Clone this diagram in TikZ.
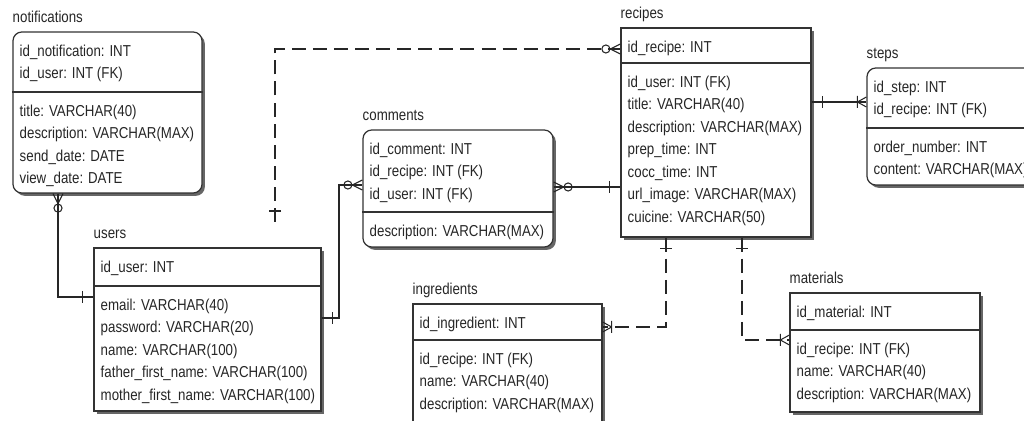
\documentclass[tikz,border=0pt]{standalone}
\usepackage{fontspec}
\setmainfont[FakeStretch=0.84]{Liberation Sans}
\usetikzlibrary{fit}
\usetikzlibrary{shadows}

\tikzset{
  tbl/.style={draw=black!80, line width=0.7pt, fill=white, inner sep=0pt,
    drop shadow={shadow xshift=1.6pt, shadow yshift=-1.6pt, fill=black!60, opacity=1}},
  rtbl/.style={tbl, rounded corners=5pt},
  div/.style={draw=black!80, line width=0.7pt},
  ttl/.style={anchor=base west, inner sep=0pt, text=black!85},
  fld/.style={anchor=north west, inner sep=0pt, align=left, text=black!85},
  rel/.style={line width=0.6pt, black!85},
  relopt/.style={rel, dash pattern=on 8pt off 4pt},
  barend/.pic={\draw[rel] (-11,-6) -- (-11,6);},
  zeromany/.pic={\draw[rel] (-10,0) -- (0,-5) (-10,0) -- (0,5);
                 \draw[rel] (-14.5,0) circle[radius=2.3pt];},
  onemany/.pic={\draw[rel] (-9,0) -- (0,-5) (-9,0) -- (0,5) (-9,-6) -- (-9,6);},
}

\begin{document}
\begin{tikzpicture}[x=0.02cm, y=-0.02cm, font=\fontsize{9}{12.8}\selectfont]
\useasboundingbox (0,0) rectangle (1024,421);
\clip (0,0) rectangle (1024,421);

% tables
\node[rtbl, fit={(13,32) (202,193)}] (notif) {};
\node[ttl] (notif-t) at ([yshift=5pt]notif.north west) {notifications};
\draw[div] (notif.west |- 0,92) -- (notif.east |- 0,92);
\node[fld] (notif-k) at ([shift={(7,13)}]notif.north west) {id\_notification: INT\\id\_user: INT (FK)};
\node[fld] (notif-a) at ([shift={(7,73)}]notif.north west) {title: VARCHAR(40)\\description: VARCHAR(MAX)\\send\_date: DATE\\view\_date: DATE};

\node[tbl, fit={(94,248) (321,411)}] (users) {};
\node[ttl] (users-t) at ([yshift=5pt]users.north west) {users};
\draw[div] (users.west |- 0,286) -- (users.east |- 0,286);
\node[fld] (users-k) at ([shift={(7,13)}]users.north west) {id\_user: INT};
\node[fld] (users-a) at ([shift={(7,51)}]users.north west) {email: VARCHAR(40)\\password: VARCHAR(20)\\name: VARCHAR(100)\\father\_first\_name: VARCHAR(100)\\mother\_first\_name: VARCHAR(100)};

\node[rtbl, fit={(363,130) (553,247)}] (comments) {};
\node[ttl] (comments-t) at ([yshift=5pt]comments.north west) {comments};
\draw[div] (comments.west |- 0,212) -- (comments.east |- 0,212);
\node[fld] (comments-k) at ([shift={(7,13)}]comments.north west) {id\_comment: INT\\id\_recipe: INT (FK)\\id\_user: INT (FK)};
\node[fld] (comments-a) at ([shift={(7,95)}]comments.north west) {description: VARCHAR(MAX)};

\node[tbl, fit={(621,28) (811,237)}] (recipes) {};
\node[ttl] (recipes-t) at ([yshift=5pt]recipes.north west) {recipes};
\draw[div] (recipes.west |- 0,63) -- (recipes.east |- 0,63);
\node[fld] (recipes-k) at ([shift={(7,13)}]recipes.north west) {id\_recipe: INT};
\node[fld] (recipes-a) at ([shift={(7,48)}]recipes.north west) {id\_user: INT (FK)\\title: VARCHAR(40)\\description: VARCHAR(MAX)\\prep\_time: INT\\cocc\_time: INT\\url\_image: VARCHAR(MAX)\\cuicine: VARCHAR(50)};

\node[rtbl, fit={(867,68) (1040,185)}] (steps) {};
\node[ttl] (steps-t) at ([yshift=5pt]steps.north west) {steps};
\draw[div] (steps.west |- 0,128) -- (steps.east |- 0,128);
\node[fld] (steps-k) at ([shift={(7,13)}]steps.north west) {id\_step: INT\\id\_recipe: INT (FK)};
\node[fld] (steps-a) at ([shift={(7,73)}]steps.north west) {order\_number: INT\\content: VARCHAR(MAX)};

\node[tbl, fit={(413,304) (602,440)}] (ingr) {};
\node[ttl] (ingr-t) at ([yshift=5pt]ingr.north west) {ingredients};
\draw[div] (ingr.west |- 0,340) -- (ingr.east |- 0,340);
\node[fld] (ingr-k) at ([shift={(7,13)}]ingr.north west) {id\_ingredient: INT};
\node[fld] (ingr-a) at ([shift={(7,49)}]ingr.north west) {id\_recipe: INT (FK)\\name: VARCHAR(40)\\description: VARCHAR(MAX)};

\node[tbl, fit={(790,293) (980,412)}] (mat) {};
\node[ttl] (mat-t) at ([yshift=5pt]mat.north west) {materials};
\draw[div] (mat.west |- 0,330) -- (mat.east |- 0,330);
\node[fld] (mat-k) at ([shift={(7,13)}]mat.north west) {id\_material: INT};
\node[fld] (mat-a) at ([shift={(7,50)}]mat.north west) {id\_recipe: INT (FK)\\name: VARCHAR(40)\\description: VARCHAR(MAX)};

% relations
\draw[rel] (notif.south -| 58,0) |- (users.west |- 0,297);
\pic[rotate=90] at (notif.south -| 58,0) {zeromany};
\pic at (users.west |- 0,297) {barend};

\coordinate (uend) at (275,222);
\draw[relopt] (uend) |- (recipes.west |- 0,49);
\pic[rotate=-90] at (uend) {barend};
\pic at (recipes.west |- 0,49) {zeromany};

\draw[rel] (users.east |- 0,318) -- (339,318) |- (comments.west |- 0,185);
\pic[rotate=180] at (users.east |- 0,318) {barend};
\pic at (comments.west |- 0,185) {zeromany};

\draw[rel] (comments.east |- 0,187) -- (recipes.west |- 0,187);
\pic[rotate=180] at (comments.east |- 0,187) {zeromany};
\pic at (recipes.west |- 0,187) {barend};

\draw[rel] (recipes.east |- 0,102) -- (steps.west |- 0,102);
\pic[rotate=180] at (recipes.east |- 0,102) {barend};
\pic at (steps.west |- 0,102) {onemany};

\draw[relopt] (recipes.south -| 666,0) |- (ingr.east |- 0,327);
\pic[rotate=90] at (recipes.south -| 666,0) {barend};
\pic[rotate=180] at (ingr.east |- 0,327) {onemany};

\draw[relopt] (recipes.south -| 742,0) |- (mat.west |- 0,340);
\pic[rotate=90] at (recipes.south -| 742,0) {barend};
\pic at (mat.west |- 0,340) {onemany};

\end{tikzpicture}
\end{document}
